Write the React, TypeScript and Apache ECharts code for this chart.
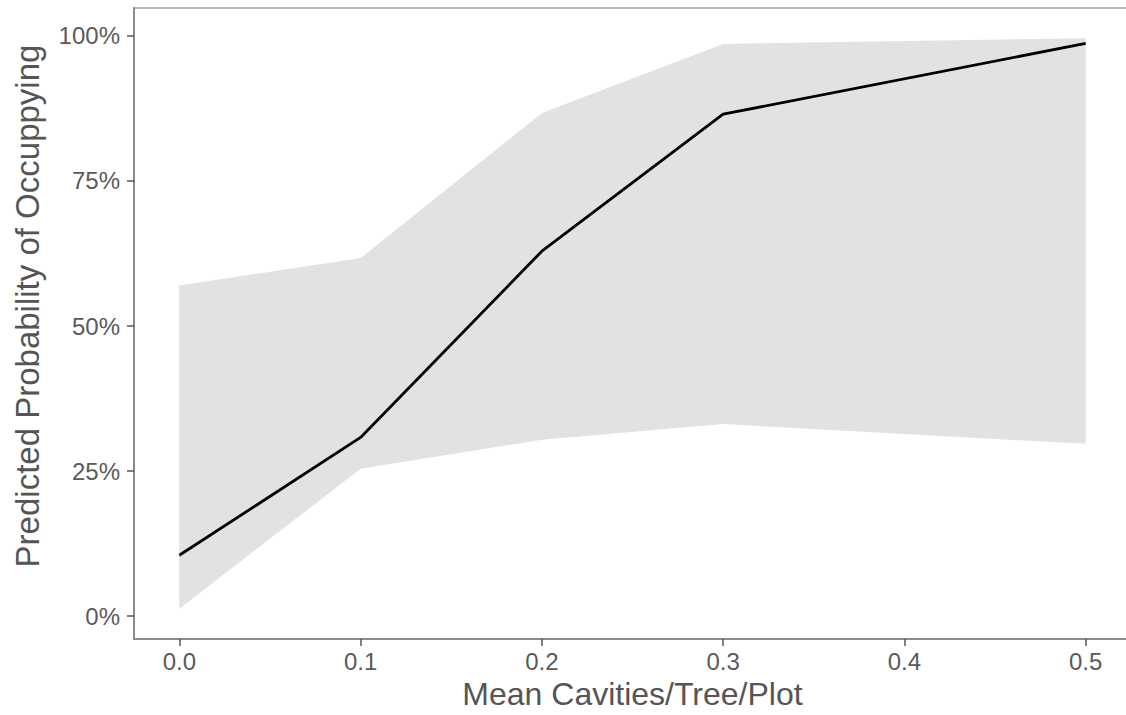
import React, { useEffect, useRef } from "react";
import * as echarts from "echarts";

const xValues = [0.0, 0.1, 0.2, 0.3, 0.5];
const fitValues = [10.5, 30.8, 62.9, 86.5, 98.7];
const lowerValues = [1.3, 25.4, 30.4, 33.1, 29.7];
const upperValues = [57.0, 61.7, 86.7, 98.6, 99.6];
const xTickValues = [0, 0.1, 0.2, 0.3, 0.4, 0.5];
const yTickValues = [0, 25, 50, 75, 100];
const xTitle = "Mean Cavities/Tree/Plot";
const yTitle = "Predicted Probability of Occuppying";

export default function App() {
  const ref = useRef<HTMLDivElement>(null);
  useEffect(() => {
    if (!ref.current) return;
    const chart = echarts.init(ref.current, null, { renderer: "svg" });
    const fontFamily = "'Liberation Sans', Arial, Helvetica, sans-serif";
    const ribbonData = xValues.map((x, i) => [x, lowerValues[i], upperValues[i]]);
    chart.setOption({
      animation: false,
      backgroundColor: "#ffffff",
      grid: {
        left: 134,
        top: 8,
        width: 997,
        height: 634,
        show: true,
        borderColor: "#a8a8a8",
        borderWidth: 1.5,
        backgroundColor: "transparent",
      },
      graphic: [
        {
          type: "text",
          x: 27,
          y: 306,
          rotation: Math.PI / 2,
          style: {
            text: yTitle,
            fontFamily,
            fontSize: 33,
            fill: "#555555",
            textAlign: "center",
            textVerticalAlign: "middle",
          },
        },
      ],
      xAxis: {
        type: "value",
        min: -0.025,
        max: 0.525,
        name: xTitle,
        nameLocation: "middle",
        nameGap: 34,
        nameTextStyle: { fontFamily, fontSize: 32, color: "#555555" },
        axisLine: { show: true, onZero: false, lineStyle: { color: "#8c8c8c", width: 2 } },
        axisTick: { show: true, length: 7, customValues: xTickValues, lineStyle: { color: "#555555", width: 1.5 } },
        axisLabel: {
          customValues: xTickValues,
          margin: 10,
          fontFamily,
          fontSize: 24,
          color: "#5a5a5a",
          formatter: (v: number) => v.toFixed(1),
        },
        splitLine: { show: false },
      },
      yAxis: {
        type: "value",
        min: -3.95,
        max: 104.8,
        axisLine: { show: true, onZero: false, lineStyle: { color: "#8c8c8c", width: 2 } },
        axisTick: { show: true, length: 7, customValues: yTickValues, lineStyle: { color: "#555555", width: 1.5 } },
        axisLabel: {
          customValues: yTickValues,
          margin: 14,
          fontFamily,
          fontSize: 24,
          color: "#5a5a5a",
          formatter: (v: number) => `${Math.round(v)}%`,
        },
        splitLine: { show: false },
      },
      series: [
        {
          type: "custom",
          name: "ribbon",
          data: ribbonData,
          encode: { x: 0, y: [1, 2] },
          silent: true,
          z: 1,
          renderItem: (params: any, api: any) => {
            if (params.dataIndex !== 0) return null;
            const upperPts = xValues.map((x, i) => api.coord([x, upperValues[i]]));
            const lowerPts = xValues.map((x, i) => api.coord([x, lowerValues[i]])).reverse();
            return {
              type: "polygon",
              shape: { points: upperPts.concat(lowerPts) },
              style: { fill: "#e2e2e2", stroke: "none" },
            };
          },
        },
        {
          type: "line",
          name: "fit",
          data: xValues.map((x, i) => [x, fitValues[i]]),
          showSymbol: false,
          symbol: "none",
          z: 3,
          lineStyle: { color: "#000000", width: 2.8 },
        },
      ],
    });
    return () => chart.dispose();
  }, []);
  return (
    <div
      style={{ position: "fixed", left: 0, top: 0, width: 1126, height: 715, overflow: "hidden", background: "#fff" }}
    >
      <div ref={ref} style={{ position: "absolute", left: 0, top: 0, width: 1150, height: 715 }} />
    </div>
  );
}
